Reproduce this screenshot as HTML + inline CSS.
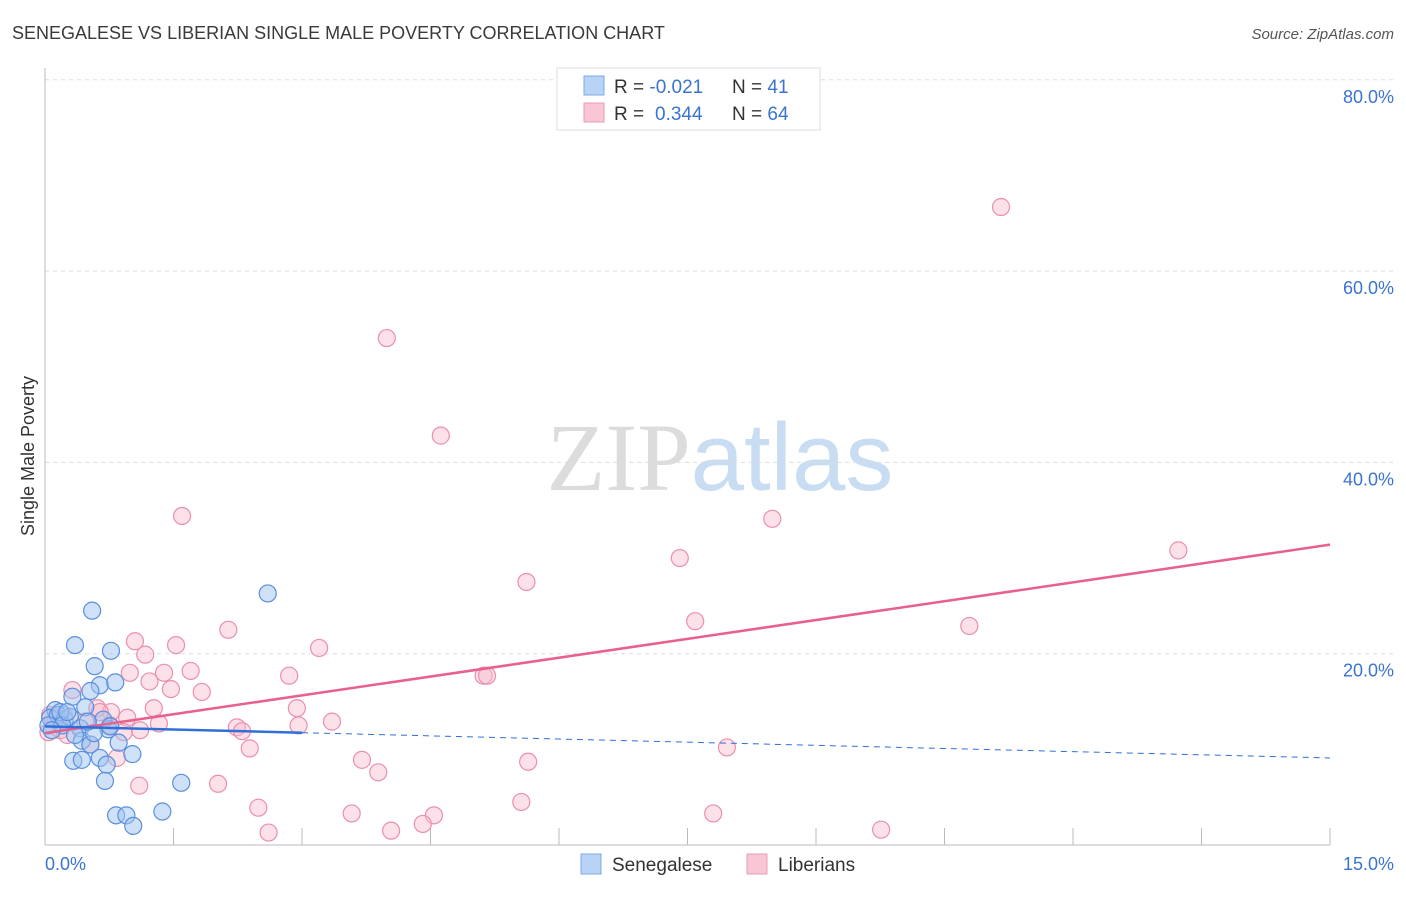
<!DOCTYPE html>
<html><head><meta charset="utf-8"><style>
body{margin:0;background:#fff;font-family:"Liberation Sans",sans-serif;}
svg text{font-family:"Liberation Sans",sans-serif;}
</style></head><body>
<svg id="chart" width="1406" height="892" viewBox="0 0 1406 892" xmlns="http://www.w3.org/2000/svg">
<text x="12" y="39" font-size="18" fill="#3a3a3a">SENEGALESE VS LIBERIAN SINGLE MALE POVERTY CORRELATION CHART</text>
<text x="1394" y="39" font-size="15" fill="#555" font-style="italic" text-anchor="end">Source: ZipAtlas.com</text>
<text x="720" y="490" font-size="96" text-anchor="middle"><tspan fill="#dcdcdc" font-family="Liberation Serif">ZIP</tspan><tspan fill="#c8dcf2">atlas</tspan></text>
<g id="grid"></g>
<line x1="45" y1="68" x2="45" y2="845" stroke="#bbb"/>
<line x1="45" y1="845" x2="1330" y2="845" stroke="#bbb"/>
<g id="xticks"></g>
<g id="ylabels"></g>
<text transform="translate(34,456) rotate(-90)" font-size="18" fill="#333" text-anchor="middle">Single Male Poverty</text>
<text x="45" y="870" font-size="18" fill="#3b74d0">0.0%</text>
<text x="1394" y="870" font-size="18" fill="#3b74d0" text-anchor="end">15.0%</text>
<g id="pink"></g>
<g id="blue"></g>
<g id="trends"></g>
<g>
<rect x="557" y="68" width="263" height="62" fill="#fff" stroke="#ddd"/>
<rect x="584" y="76" width="20" height="19" fill="#b8d3f5" stroke="#7eaae8"/>
<rect x="584" y="103" width="20" height="19" fill="#f9c6d6" stroke="#ec9bb5"/>
<text x="614" y="93" font-size="19" fill="#333">R = <tspan fill="#3b74d0">-0.021</tspan><tspan x="732">N = </tspan><tspan fill="#3b74d0">41</tspan></text>
<text x="614" y="120" font-size="19" fill="#333">R = <tspan fill="#3b74d0" x="655">0.344</tspan><tspan x="732">N = </tspan><tspan fill="#3b74d0">64</tspan></text>
</g>
<g>
<rect x="581" y="854" width="20" height="20" fill="#b8d3f5" stroke="#7eaae8"/>
<text x="612" y="871" font-size="19" fill="#333">Senegalese</text>
<rect x="747" y="854" width="20" height="20" fill="#f9c6d6" stroke="#ec9bb5"/>
<text x="778" y="871" font-size="19" fill="#333">Liberians</text>
</g>
</svg>
<script>
const yTicks=[20,40,60,80];
const yTickLabels=["20.0%","40.0%","60.0%","80.0%"];
const xTicks=[1.5,3,4.5,6,7.5,9,10.5,12,13.5,15];
const blueX=[0.55,0.35,2.6,0.58,0.77,0.64,0.53,0.82,0.32,0.47,0.12,0.06,0.15,0.23,0.29,0.04,0.41,0.68,0.74,0.43,0.53,0.86,1.02,0.64,0.33,0.43,0.72,0.7,1.59,0.83,0.95,1.03,1.37,0.18,0.2,0.08,0.26,0.57,0.5,0.35,0.76];
const blueY=[24.5,20.9,26.3,18.7,20.3,16.7,16.1,17.0,15.5,14.4,14.1,13.3,13.6,13.1,13.4,12.5,12.2,13.1,12.1,10.9,10.5,10.7,9.5,9.1,8.8,8.9,8.4,6.7,6.5,3.1,3.1,2.0,3.5,13.9,12.5,12.0,13.9,11.7,12.9,11.5,12.4];
const pinkX=[11.16,3.99,4.62,1.6,8.49,13.23,7.41,5.62,7.59,10.79,2.14,1.05,1.53,3.2,1.17,1.7,1.39,0.99,2.85,5.12,5.16,1.22,1.47,1.83,0.32,1.27,2.94,0.61,0.77,0.96,3.35,2.96,1.33,2.24,2.3,0.92,0.04,0.18,0.26,2.39,7.96,0.84,3.7,5.64,3.89,1.1,2.02,5.56,2.49,3.58,4.54,7.8,4.41,4.04,2.61,9.76,0.12,0.47,0.22,0.64,1.11,0.53,0.76,0.06];
const pinkY=[66.7,53.0,42.8,34.4,34.1,30.8,30.0,27.5,23.4,22.9,22.5,21.3,20.9,20.6,19.9,18.2,18.0,18.0,17.7,17.7,17.7,17.1,16.3,16.0,16.2,14.3,14.3,14.3,13.9,13.3,12.9,12.5,12.7,12.3,11.9,11.8,11.8,12.0,11.5,10.1,10.2,9.1,8.9,8.7,7.6,6.2,6.4,4.5,3.9,3.3,3.1,3.3,2.2,1.5,1.3,1.6,13.1,12.9,13.6,13.9,12.0,10.5,12.5,13.6];
const blueTrend=[12.4,9.1]; // y at x=0 and x=15
const pinkTrend=[11.7,31.4];
const blueSolidEnd=3;
const NS="http://www.w3.org/2000/svg";
const sx=v=>45+v*(1285/15);
const sy=v=>845-v*9.565;
function mk(tag,attrs,parent){const e=document.createElementNS(NS,tag);for(const k in attrs)e.setAttribute(k,attrs[k]);parent.appendChild(e);return e;}
const grid=document.getElementById('grid'),yl=document.getElementById('ylabels'),xt=document.getElementById('xticks');
yTicks.forEach((t,i)=>{
 const l=mk('line',{x1:45,x2:1394,y1:sy(t),y2:sy(t),stroke:'#ddd','stroke-dasharray':'4,4'},grid);
 
 
 const tx=mk('text',{x:1394,y:sy(t)+23,'font-size':18,fill:'#3b74d0','text-anchor':'end'},yl);
 tx.textContent=yTickLabels[i];
 
 
});
xTicks.forEach(t=>{
 const l=mk('line',{x1:sx(t),x2:sx(t),y1:828,y2:845,stroke:'#bbb'},xt);
 
 
});
function pts(xs,ys,g,fill,stroke,name){
 xs.forEach((x,i)=>{
  const c=mk('circle',{cx:sx(x),cy:sy(ys[i]),r:8.5,fill:fill,stroke:stroke,'stroke-width':1.2},g);
  
  
 });
}
pts(pinkX,pinkY,document.getElementById('pink'),'rgba(248,188,206,0.45)','#ea8fad','liberians-point');
pts(blueX,blueY,document.getElementById('blue'),'rgba(160,196,240,0.5)','#5a8fdf','senegalese-point');
const tr=document.getElementById('trends');
const by=x=>blueTrend[0]+(blueTrend[1]-blueTrend[0])*x/15;
const py=x=>pinkTrend[0]+(pinkTrend[1]-pinkTrend[0])*x/15;
const l1=mk('line',{x1:sx(0),y1:sy(py(0)),x2:sx(15),y2:sy(py(15)),stroke:'#e8608e','stroke-width':2.5},tr);


const l2=mk('line',{x1:sx(0),y1:sy(by(0)),x2:sx(blueSolidEnd),y2:sy(by(blueSolidEnd)),stroke:'#2f6fd6','stroke-width':2.5},tr);


const l3=mk('line',{x1:sx(blueSolidEnd),y1:sy(by(blueSolidEnd)),x2:sx(15),y2:sy(by(15)),stroke:'#2f6fd6','stroke-width':1,'stroke-dasharray':'6,5'},tr);


</script>
</body></html>
